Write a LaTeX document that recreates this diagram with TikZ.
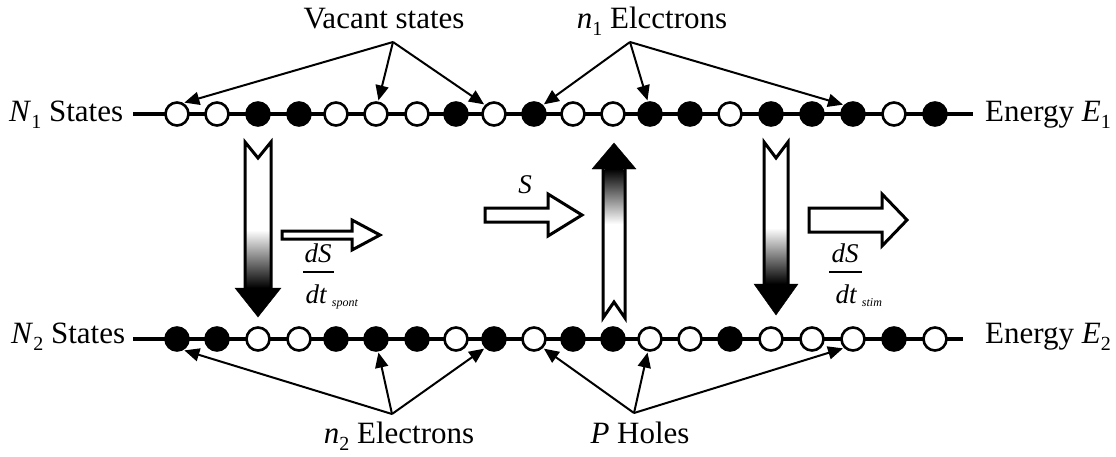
\documentclass[tikz,border=0pt]{standalone}
\usepackage{fontspec}
\setmainfont{Liberation Serif}
\usetikzlibrary{arrows.meta}
% lowered index digit used in N_1, E_1, n_2 ...
\newcommand\lowidx[1]{\raisebox{-0.5ex}{\fontsize{20}{20}\selectfont #1}}

\begin{document}
\begin{tikzpicture}[x=1pt,y=-1pt,
  lbl/.style={font=\fontsize{31}{36}\selectfont, inner sep=0pt},
  fraclbl/.style={font=\fontsize{27}{30}\selectfont\itshape, inner sep=0pt},
  tinylbl/.style={font=\fontsize{12}{14}\selectfont\itshape, inner sep=0pt},
  state/.style={circle, draw=black, line width=2.6pt, minimum size=23pt, inner sep=0pt},
  level/.style={line width=3.5pt},
  pointer/.style={line width=2pt, -{Triangle[length=15pt,width=13pt]}, shorten >=1pt},
  blockout/.style={line width=3pt, line join=miter, draw=black},
  hollow/.style={line width=3pt, line join=miter, draw=black, fill=white}
]
\useasboundingbox (0,0) rectangle (1116,456);

% ---------- energy levels ----------
\coordinate (tl) at (133,114);
\coordinate (tr) at (973,114);
\coordinate (bl) at (133,339);
\coordinate (br) at (963,339);
\draw[level] (tl) -- (tr);
\draw[level] (bl) -- (br);

\node[lbl, anchor=base west] (n1s) at (9,121) {\textit{N}\lowidx{1} States};
\node[lbl, anchor=base west] (e1)  at (985,121) {Energy \textit{E}\lowidx{1}};
\node[lbl, anchor=base west] (n2s) at (11,343) {\textit{N}\lowidx{2} States};
\node[lbl, anchor=base west] (e2)  at (985,343) {Energy \textit{E}\lowidx{2}};

% ---------- states: upper (t) and lower (b) band ----------
\foreach \x/\a/\b [count=\i] in {
  177/white/black, 217/white/black, 258/black/white, 299/black/white,
  336/white/black, 376/white/black, 417/white/black, 456/black/white,
  494/white/black, 534/black/white, 573/white/black, 613/white/black,
  650/black/white, 690/black/white, 730/white/black, 771/black/white,
  812/black/white, 853/black/white, 894/white/black, 935/black/white}
{
  \node[state, fill=\a] (t\i) at (\x,114) {};
  \node[state, fill=\b] (b\i) at (\x,339) {};
}

% ---------- annotations ----------
\node[lbl, anchor=base] (vac) at (384,28) {Vacant states};
\node[lbl, anchor=base] (ne1) at (652,28) {\textit{n}\lowidx{1} Elcctrons};
\node[lbl, anchor=base] (ne2) at (399,443) {\textit{n}\lowidx{2} Electrons};
\node[lbl, anchor=base] (ph)  at (640,443) {\textit{P} Holes};

\coordinate (vapex)  at (393,42);
\coordinate (n1apex) at (630,42);
\coordinate (n2apex) at (392,414);
\coordinate (papex)  at (634,413);

\draw[pointer] (vapex) -- (t1.60);
\draw[pointer] (vapex) -- (t6.80);
\draw[pointer] (vapex) -- (t9.135);
\draw[pointer] (n1apex) -- (t10.45);
\draw[pointer] (n1apex) -- (t13.100);
\draw[pointer] (n1apex) -- (t18.135);
\draw[pointer] (n2apex) -- (b1.-60);
\draw[pointer] (n2apex) -- (b6.-80);
\draw[pointer] (n2apex) -- (b9.-135);
\draw[pointer] (papex) -- (b10.-45);
\draw[pointer] (papex) -- (b13.-100);
\draw[pointer] (papex) -- (b18.-135);

% ---------- spontaneous emission (down, left) ----------
\fill[white] (245,142) -- (258,158) -- (271,142) -- (271,288) -- (245,288) -- cycle;
\shade[top color=white, bottom color=black] (246.5,230) rectangle (269.5,288);
\draw[blockout] (245,288) -- (245,142) -- (258,158) -- (271,142) -- (271,288);
\filldraw[black, line join=miter] (235,288) -- (281,288) -- (258,317) -- cycle;

% ---------- stimulated emission (down, right) ----------
\fill[white] (764,142) -- (776,158) -- (788,142) -- (788,284) -- (764,284) -- cycle;
\shade[top color=white, bottom color=black] (765.5,228) rectangle (786.5,284);
\draw[blockout] (764,284) -- (764,142) -- (776,158) -- (788,142) -- (788,284);
\filldraw[black, line join=miter] (754,284) -- (798,284) -- (776,315) -- cycle;

% ---------- absorption (up, middle) ----------
\fill[white] (603,169) -- (625,169) -- (625,318) -- (614,302) -- (603,318) -- cycle;
\shade[top color=black, bottom color=white] (604.5,169) rectangle (623.5,224);
\draw[blockout] (603,169) -- (603,318) -- (614,302) -- (625,318) -- (625,169);
\filldraw[black, line join=miter] (592,169) -- (636,169) -- (614,143) -- cycle;

% ---------- photon flux arrows ----------
\draw[hollow] (282,231) -- (352,231) -- (352,220) -- (380,235) -- (352,250) -- (352,239) -- (282,239) -- cycle;
\draw[hollow] (485,208) -- (548,208) -- (548,194) -- (582,215) -- (548,236) -- (548,222) -- (485,222) -- cycle;
\draw[hollow] (809,208) -- (882,208) -- (882,194) -- (907,220) -- (882,246) -- (882,232) -- (809,232) -- cycle;

\node[fraclbl] (slbl) at (525,185) {S};

% dS/dt (spont)
\node[fraclbl, anchor=base] (dsa) at (318,262) {dS};
\node[fraclbl, anchor=base] (dta) at (316,303) {dt};
\draw[line width=1.4pt] (303,272) -- (334,272);
\node[tinylbl, anchor=base west] (spa) at ([xshift=5pt,yshift=-3pt]dta.base east) {spont};

% dS/dt (stim)
\node[fraclbl, anchor=base] (dsb) at (845,262) {dS};
\node[fraclbl, anchor=base] (dtb) at (846,303) {dt};
\draw[line width=1.4pt] (829,272) -- (862,272);
\node[tinylbl, anchor=base west] (stb) at ([xshift=5pt,yshift=-3pt]dtb.base east) {stim};
\end{tikzpicture}
\end{document}
